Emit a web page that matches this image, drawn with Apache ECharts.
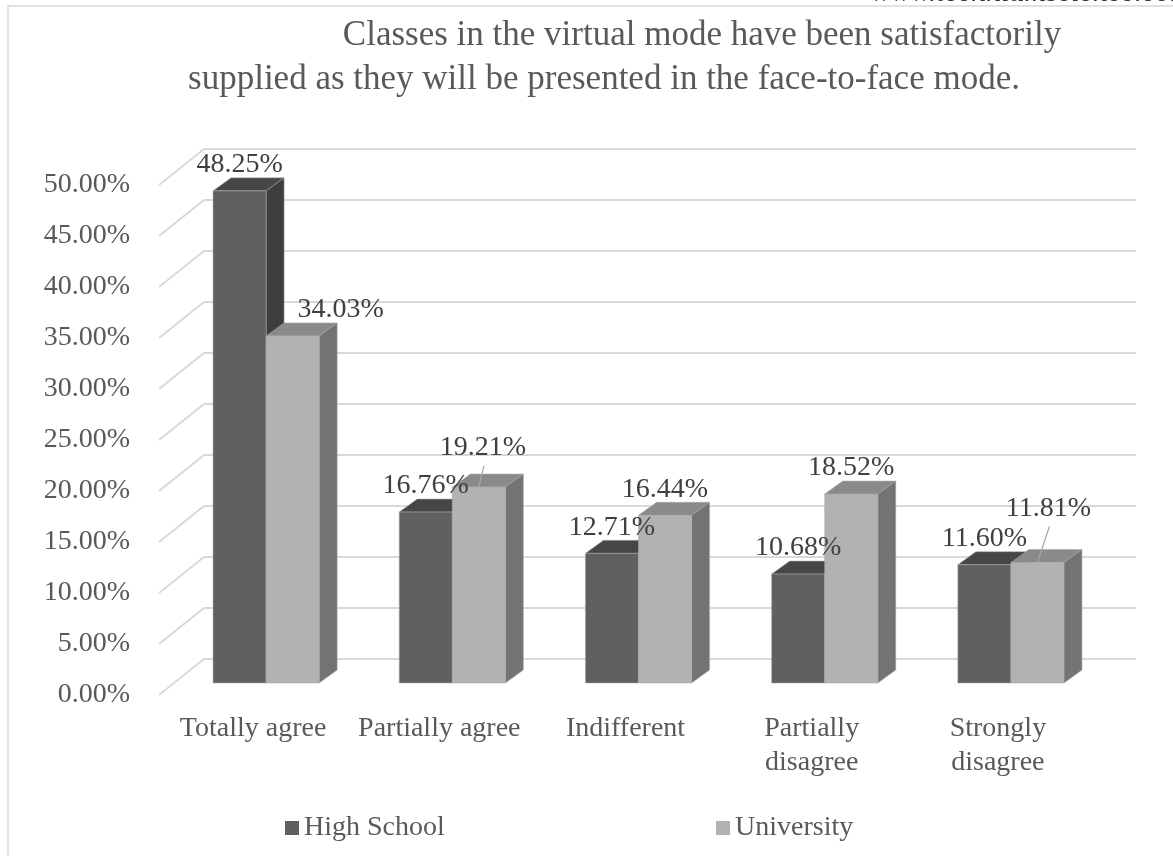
<!DOCTYPE html>
<html>
<head>
<meta charset="utf-8">
<script src="https://cdn.jsdelivr.net/npm/echarts@6/dist/echarts.min.js"></script>
<style>
  html, body { margin: 0; padding: 0; background: #ffffff; }
  #chart { width: 1173px; height: 856px; }
</style>
</head>
<body>
<div id="chart"></div>
<script>
// ---- data ----
const categories = ['Totally agree', 'Partially agree', 'Indifferent', 'Partially\ndisagree', 'Strongly\ndisagree'];
const highSchool = [48.25, 16.76, 12.71, 10.68, 11.60];
const university = [34.03, 19.21, 16.44, 18.52, 11.81];
const yTicks = [0, 5, 10, 15, 20, 25, 30, 35, 40, 45, 50];
const seriesNames = ['High School', 'University'];
const titleLines = ['Classes in the virtual mode have been satisfactorily',
                    'supplied as they will be presented in the face-to-face mode.'];

// ---- look ----
const FONT = '"Liberation Serif", "Times New Roman", serif';
const AXIS_TEXT = '#595959';
const LABEL_TEXT = '#404040';
const GRID_LINE = '#d9d9d9';
const DEPTH = [18, -13];          // bar depth offset (x, y)
const FLOOR = [-45, 36];          // wall-to-front offset of the floor
const BAR_RATIO = 0.285;          // one bar width as share of a category band
const shades = [
  { front: '#606060', top: '#464646', side: '#3d3d3d' },
  { front: '#b2b2b2', top: '#8a8a8a', side: '#737373' }
];
// hand-placed labels: [series][category] -> shift and leader line
const labelShift = {
  '1-0': { dx: 48, dy: 0 },
  '1-1': { dx: 4, dy: -13, leader: true },
  '1-4': { dx: 11, dy: -28, leader: true }
};

function barRenderer(seriesIdx) {
  const c = shades[seriesIdx];
  return function (params, api) {
    const cat = api.value(0);
    const val = api.value(1);
    const top = api.coord([cat, val]);
    const base = api.coord([cat, 0]);
    const w = api.size([1, 0])[0] * BAR_RATIO;
    const x0 = seriesIdx === 0 ? top[0] - w : top[0];
    const x1 = x0 + w;
    const yT = top[1], yB = base[1];
    const [dx, dy] = DEPTH;
    const edge = { stroke: 'rgba(170,170,170,0.55)', lineWidth: 1 };
    const children = [
      { type: 'polygon', shape: { points: [[x0, yT], [x0 + dx, yT + dy], [x1 + dx, yT + dy], [x1, yT]] },
        style: Object.assign({ fill: c.top }, edge) },
      { type: 'polygon', shape: { points: [[x1, yT], [x1 + dx, yT + dy], [x1 + dx, yB + dy], [x1, yB]] },
        style: Object.assign({ fill: c.side }, edge) },
      { type: 'rect', shape: { x: x0, y: yT, width: w, height: yB - yT },
        style: Object.assign({ fill: c.front }, edge) }
    ];
    const s = labelShift[seriesIdx + '-' + cat] || { dx: 0, dy: 0 };
    const lx = (x0 + x1) / 2 + s.dx;
    const ly = yT - 26 + s.dy;
    if (s.leader) {
      children.push({ type: 'line', z2: 90,
        shape: { x1: lx + 1, y1: ly + 18, x2: (x0 + x1) / 2, y2: yT },
        style: { stroke: '#a6a6a6', lineWidth: 1.2 } });
    }
    children.push({ type: 'text', z2: 100, x: lx, y: ly,
      style: { text: val.toFixed(2) + '%', fill: LABEL_TEXT, font: '28px ' + FONT,
               align: 'center', verticalAlign: 'middle' } });
    return { type: 'group', children: children };
  };
}

function floorLineRenderer(params, api) {
  const p = api.coord([0, api.value(1)]);
  return { type: 'line',
    shape: { x1: p[0], y1: p[1], x2: p[0] + FLOOR[0], y2: p[1] + FLOOR[1] },
    style: { stroke: GRID_LINE, lineWidth: 2 } };
}

const chart = echarts.init(document.getElementById('chart'), null, { renderer: 'canvas' });

const valueAxisBase = { type: 'value', min: 0, max: 50, interval: 5 };

chart.setOption({
  animation: false,
  backgroundColor: '#ffffff',
  textStyle: { fontFamily: FONT },
  graphic: [
    { type: 'rect', shape: { x: 8, y: 6, width: 1300, height: 1000 },
      style: { fill: 'none', stroke: GRID_LINE, lineWidth: 1.5 }, z: -10 },
    { type: 'text', x: 871, y: -7,
      style: { text: 'www.techniumscience.com', fill: '#303030',
               font: 'italic 30px ' + FONT, verticalAlign: 'middle' } },
    { type: 'text', x: 702, y: 36,
      style: { text: titleLines[0], fill: AXIS_TEXT, font: '35px ' + FONT,
               align: 'center', verticalAlign: 'middle' } },
    { type: 'text', x: 604, y: 80,
      style: { text: titleLines[1], fill: AXIS_TEXT, font: '35px ' + FONT,
               align: 'center', verticalAlign: 'middle' } }
  ],
  grid: [
    // back wall
    { left: 204, right: 37, top: 149, bottom: 197 },
    // front edge of the floor, carries the axis labels
    { left: 160, right: 82, top: 185, bottom: 161 },
    // plane of the bar fronts
    { left: 173, right: 69, top: 173, bottom: 173 }
  ],
  xAxis: [
    { gridIndex: 0, type: 'value', min: 0, max: 1, show: false },
    { gridIndex: 1, type: 'category', data: categories,
      axisLine: { show: false }, axisTick: { show: false },
      axisLabel: { interval: 0, fontSize: 28, lineHeight: 34, color: AXIS_TEXT,
                   fontFamily: FONT, margin: 17 } },
    { gridIndex: 2, type: 'category', data: categories, show: false }
  ],
  yAxis: [
    Object.assign({ gridIndex: 0, axisLabel: { show: false }, axisLine: { show: false },
      axisTick: { show: false }, splitLine: { lineStyle: { color: GRID_LINE, width: 2 } } }, valueAxisBase),
    Object.assign({ gridIndex: 1, axisLine: { show: false }, axisTick: { show: false },
      splitLine: { show: false },
      axisLabel: { fontSize: 28, color: AXIS_TEXT, fontFamily: FONT, margin: 30,
                   formatter: v => v.toFixed(2) + '%' } }, valueAxisBase),
    Object.assign({ gridIndex: 2, show: false }, valueAxisBase)
  ],
  legend: [
    { data: [seriesNames[0]], left: 285, top: 814, padding: 0, icon: 'rect',
      itemWidth: 14, itemHeight: 14, itemGap: 6,
      textStyle: { fontSize: 28, color: AXIS_TEXT, fontFamily: FONT } },
    { data: [seriesNames[1]], left: 716, top: 814, padding: 0, icon: 'rect',
      itemWidth: 14, itemHeight: 14, itemGap: 6,
      textStyle: { fontSize: 28, color: AXIS_TEXT, fontFamily: FONT } }
  ],
  series: [
    { type: 'custom', name: 'floor', xAxisIndex: 0, yAxisIndex: 0, silent: true,
      renderItem: floorLineRenderer, data: yTicks.map(v => [0, v]) },
    { type: 'custom', name: seriesNames[0], xAxisIndex: 2, yAxisIndex: 2,
      itemStyle: { color: shades[0].front }, renderItem: barRenderer(0),
      encode: { x: 0, y: 1 }, data: highSchool.map((v, i) => [i, v]) },
    { type: 'custom', name: seriesNames[1], xAxisIndex: 2, yAxisIndex: 2,
      itemStyle: { color: shades[1].front }, renderItem: barRenderer(1),
      encode: { x: 0, y: 1 }, data: university.map((v, i) => [i, v]) }
  ]
});
</script>
</body>
</html>
